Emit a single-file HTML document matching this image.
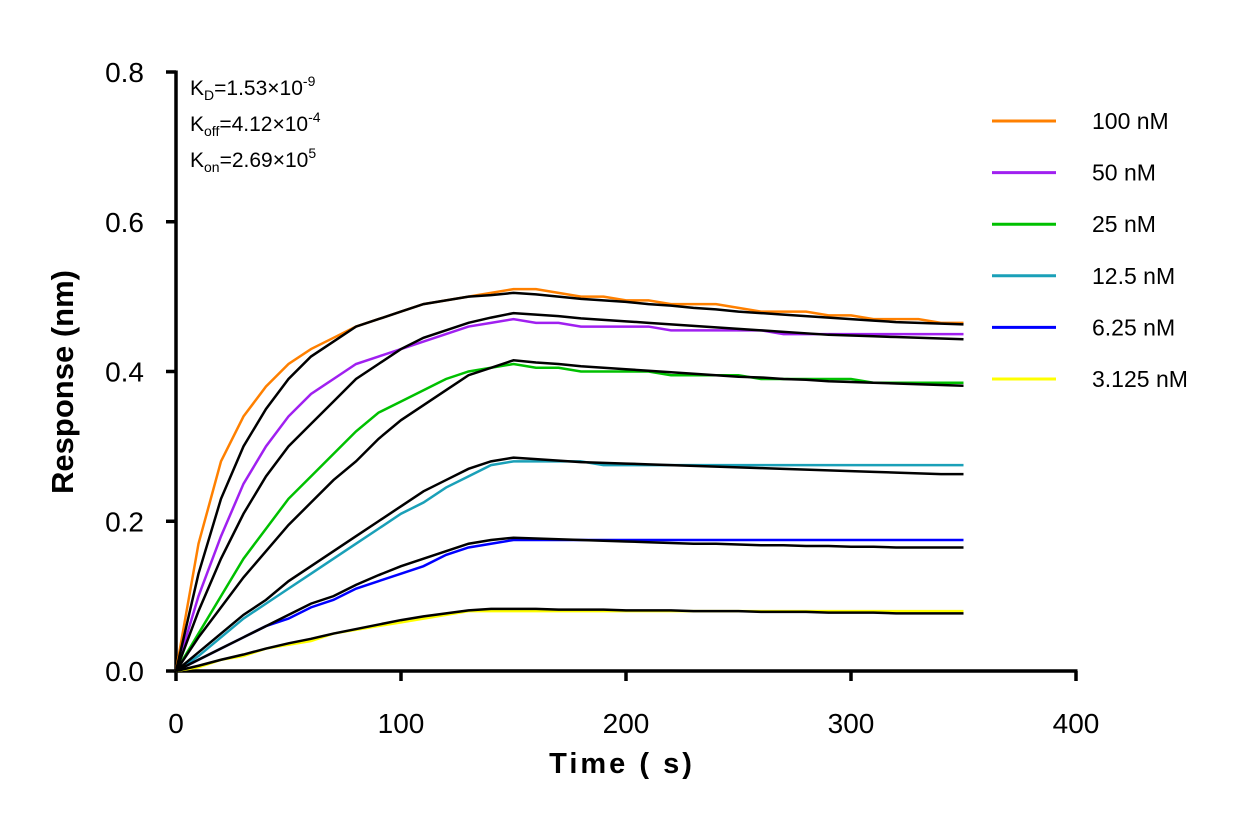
<!DOCTYPE html>
<html><head><meta charset="utf-8"><style>
body{margin:0;background:#fff}
svg text{font-family:"Liberation Sans",Arial,sans-serif;fill:#000}
</style></head><body>
<svg width="1238" height="825" viewBox="0 0 1238 825">
<g id="axes"></g>
<g id="series"></g>
<g id="legend"></g>
<g>
<text x="190" y="95" font-size="21">K<tspan font-size="14" dy="5">D</tspan><tspan dy="-5">=1.53×10</tspan><tspan font-size="14" dy="-9">-9</tspan></text>
<text x="190" y="131" font-size="21">K<tspan font-size="14" dy="5">off</tspan><tspan dy="-5">=4.12×10</tspan><tspan font-size="14" dy="-9">-4</tspan></text>
<text x="190" y="167" font-size="21">K<tspan font-size="14" dy="5">on</tspan><tspan dy="-5">=2.69×10</tspan><tspan font-size="14" dy="-9">5</tspan></text>
</g>
<text x="0" y="0" font-size="31" font-weight="bold" text-anchor="middle" transform="translate(73,382) rotate(-90)">Response (nm)</text>
<text x="622" y="773" font-size="29" font-weight="bold" text-anchor="middle" letter-spacing="3">Time ( s)</text>
</svg>
<script>
const times=[0,10,20,30,40,50,60,70,80,90,100,110,120,130,140,150,160,170,180,190,200,210,220,230,240,250,260,270,280,290,300,310,320,330,340,350];
const xTicks=[0,100,200,300,400];
const yTicks=[0,0.2,0.4,0.6,0.8];
const yTickLabels=["0.0","0.2","0.4","0.6","0.8"];
const seriesNames=["100 nM","50 nM","25 nM","12.5 nM","6.25 nM","3.125 nM"];
const seriesColors=["#ff8000","#a020f0","#00c000","#1aa0b8","#0000ff","#ffff00"];
const data100=[0,0.17,0.28,0.34,0.38,0.41,0.43,0.445,0.46,0.47,0.48,0.49,0.495,0.5,0.505,0.51,0.51,0.505,0.5,0.5,0.495,0.495,0.49,0.49,0.49,0.485,0.48,0.48,0.48,0.475,0.475,0.47,0.47,0.47,0.465,0.465];
const fit100=[0,0.13,0.23,0.3,0.35,0.39,0.42,0.44,0.46,0.47,0.48,0.49,0.495,0.5,0.502,0.505,0.503,0.5,0.497,0.495,0.493,0.49,0.488,0.485,0.483,0.48,0.478,0.476,0.474,0.472,0.47,0.468,0.466,0.465,0.464,0.463];
const data50=[0,0.1,0.18,0.25,0.3,0.34,0.37,0.39,0.41,0.42,0.43,0.44,0.45,0.46,0.465,0.47,0.465,0.465,0.46,0.46,0.46,0.46,0.455,0.455,0.455,0.455,0.455,0.45,0.45,0.45,0.45,0.45,0.45,0.45,0.45,0.45];
const fit50=[0,0.08,0.15,0.21,0.26,0.3,0.33,0.36,0.39,0.41,0.43,0.445,0.455,0.465,0.472,0.478,0.476,0.474,0.471,0.469,0.467,0.465,0.463,0.461,0.459,0.457,0.455,0.453,0.451,0.449,0.448,0.447,0.446,0.445,0.444,0.443];
const data25=[0,0.05,0.1,0.15,0.19,0.23,0.26,0.29,0.32,0.345,0.36,0.375,0.39,0.4,0.405,0.41,0.405,0.405,0.4,0.4,0.4,0.4,0.395,0.395,0.395,0.395,0.39,0.39,0.39,0.39,0.39,0.385,0.385,0.385,0.385,0.385];
const fit25=[0,0.045,0.085,0.125,0.16,0.195,0.225,0.255,0.28,0.31,0.335,0.355,0.375,0.395,0.405,0.415,0.412,0.41,0.407,0.405,0.403,0.401,0.399,0.397,0.395,0.393,0.392,0.39,0.389,0.387,0.386,0.385,0.384,0.383,0.382,0.381];
const data12=[0,0.02,0.045,0.07,0.09,0.11,0.13,0.15,0.17,0.19,0.21,0.225,0.245,0.26,0.275,0.28,0.28,0.28,0.28,0.275,0.275,0.275,0.275,0.275,0.275,0.275,0.275,0.275,0.275,0.275,0.275,0.275,0.275,0.275,0.275,0.275];
const fit12=[0,0.025,0.05,0.075,0.095,0.12,0.14,0.16,0.18,0.2,0.22,0.24,0.255,0.27,0.28,0.285,0.283,0.281,0.279,0.278,0.277,0.276,0.275,0.274,0.273,0.272,0.271,0.27,0.269,0.268,0.267,0.266,0.265,0.264,0.263,0.263];
const data6=[0,0.015,0.03,0.045,0.06,0.07,0.085,0.095,0.11,0.12,0.13,0.14,0.155,0.165,0.17,0.175,0.175,0.175,0.175,0.175,0.175,0.175,0.175,0.175,0.175,0.175,0.175,0.175,0.175,0.175,0.175,0.175,0.175,0.175,0.175,0.175];
const fit6=[0,0.015,0.03,0.045,0.06,0.075,0.09,0.1,0.115,0.128,0.14,0.15,0.16,0.17,0.175,0.178,0.177,0.176,0.175,0.174,0.173,0.172,0.171,0.17,0.17,0.169,0.168,0.168,0.167,0.167,0.166,0.166,0.165,0.165,0.165,0.165];
const data3=[0,0.005,0.015,0.02,0.03,0.035,0.04,0.05,0.055,0.06,0.065,0.07,0.075,0.08,0.08,0.08,0.08,0.08,0.08,0.08,0.08,0.08,0.08,0.08,0.08,0.08,0.08,0.08,0.08,0.08,0.08,0.08,0.08,0.08,0.08,0.08];
const fit3=[0,0.007,0.015,0.022,0.03,0.037,0.043,0.05,0.056,0.062,0.068,0.073,0.077,0.081,0.083,0.083,0.083,0.082,0.082,0.082,0.081,0.081,0.081,0.08,0.08,0.08,0.079,0.079,0.079,0.078,0.078,0.078,0.077,0.077,0.077,0.077];
const dataSeries=[data100,data50,data25,data12,data6,data3];
const fitSeries=[fit100,fit50,fit25,fit12,fit6,fit3];

const NS="http://www.w3.org/2000/svg";
const X0=176,X1=1076,Y0=671,Y1=72;
function xs(v){return X0+(v-0)/(400-0)*(X1-X0);}
function ys(v){return Y0+(v-0)/(0.8-0)*(Y1-Y0);}
function mk(tag,attrs,parent){const e=document.createElementNS(NS,tag);for(const k in attrs)e.setAttribute(k,attrs[k]);parent.appendChild(e);return e;}

const axes=document.getElementById('axes');
let e=mk('line',{x1:X0,y1:Y0,x2:X1+1.5,y2:Y0,stroke:'#000','stroke-width':3.5},axes);


e=mk('line',{x1:X0,y1:Y0+1.5,x2:X0,y2:Y1-1.5,stroke:'#000','stroke-width':3.5},axes);


xTicks.forEach(t=>{
  const l=mk('line',{x1:xs(t),y1:Y0,x2:xs(t),y2:Y0+10,stroke:'#000','stroke-width':3.5},axes);
  
  
  const tx=mk('text',{x:xs(t),y:Y0+62,'font-size':28,'text-anchor':'middle'},axes);
  tx.textContent=String(t);
  
  
});
yTicks.forEach((t,i)=>{
  const l=mk('line',{x1:X0-10,y1:ys(t),x2:X0,y2:ys(t),stroke:'#000','stroke-width':3.5},axes);
  
  
  const tx=mk('text',{x:X0-32,y:ys(t)+10,'font-size':28,'text-anchor':'end'},axes);
  tx.textContent=yTickLabels[i];
  
  
});

const sg=document.getElementById('series');
dataSeries.forEach((d,i)=>{
  const p=mk('polyline',{points:d.map((v,j)=>xs(times[j])+','+ys(v)).join(' '),fill:'none',stroke:seriesColors[i],'stroke-width':2.5},sg);
  
  
});
fitSeries.forEach((d,i)=>{
  const p=mk('polyline',{points:d.map((v,j)=>xs(times[j])+','+ys(v)).join(' '),fill:'none',stroke:'#000','stroke-width':2.5},sg);
  
  
});

const lg=document.getElementById('legend');
seriesNames.forEach((n,i)=>{
  const y=121+i*51.6;
  const g=mk('g',{},lg);
  
  
  mk('line',{x1:992,y1:y,x2:1056,y2:y,stroke:seriesColors[i],'stroke-width':3},g);
  const t=mk('text',{x:1092,y:y+8,'font-size':23},g);
  t.textContent=n;
});
</script>
</body></html>
